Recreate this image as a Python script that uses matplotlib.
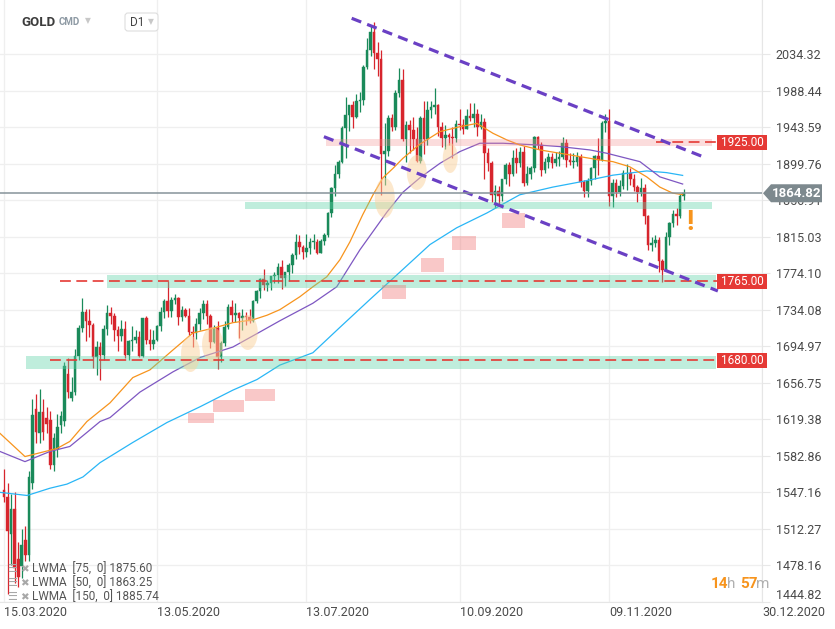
import numpy as np
import matplotlib
matplotlib.use('Agg')
import matplotlib.pyplot as plt
from matplotlib.patches import Rectangle, Ellipse, Polygon, FancyBboxPatch
from matplotlib.ticker import NullLocator
from matplotlib.transforms import IdentityTransform

plt.rcParams['font.family'] = ['Roboto', 'DejaVu Sans']

# ---------------- data (daily candles, index 0 = 15.03.2020) ----------------
opens = [1549, 1543, 1507, 1531, 1484, 1477, 1502, 1488, 1556, 1630,
         1605, 1627, 1621, 1619, 1574, 1589, 1613, 1618, 1666, 1641,
         1647, 1685, 1714, 1731, 1722, 1717, 1683, 1694, 1686, 1713,
         1730, 1727, 1712, 1706, 1713, 1686, 1700, 1702, 1705, 1685,
         1725, 1702, 1697, 1702, 1716, 1731, 1743, 1733, 1745, 1747,
         1726, 1734, 1727, 1710, 1709, 1719, 1730, 1740, 1727, 1699,
         1714, 1684, 1698, 1715, 1737, 1728, 1730, 1725, 1727, 1726,
         1722, 1743, 1754, 1768, 1761, 1763, 1771, 1772, 1781, 1769,
         1775, 1783, 1794, 1809, 1803, 1798, 1802, 1809, 1809, 1796,
         1810, 1817, 1842, 1871, 1887, 1902, 1942, 1958, 1970, 1956,
         1975, 1977, 2018, 2039, 2063, 2035, 2028, 1911, 1915, 1954,
         1944, 1985, 2002, 1929, 1946, 1940, 1929, 1903, 1954, 1929,
         1964, 1968, 1971, 1944, 1930, 1934, 1932, 1930, 1947, 1946,
         1941, 1957, 1955, 1960, 1944, 1950, 1912, 1900, 1863, 1868,
         1862, 1882, 1898, 1887, 1906, 1900, 1913, 1877, 1887, 1894,
         1931, 1922, 1892, 1901, 1908, 1900, 1905, 1907, 1924, 1904,
         1902, 1902, 1907, 1878, 1868, 1879, 1895, 1909, 1904, 1949,
         1951, 1862, 1877, 1866, 1873, 1888, 1888, 1882, 1872, 1866,
         1871, 1838, 1805, 1808, 1811, 1788, 1777, 1815, 1830, 1841,
         1839, 1862]
highs = [1570, 1556, 1545, 1547, 1500, 1512, 1515, 1568, 1640, 1645,
         1650, 1640, 1632, 1628, 1605, 1625, 1628, 1678, 1682, 1663,
         1692, 1718, 1747, 1735, 1735, 1720, 1700, 1699, 1718, 1739,
         1737, 1730, 1716, 1723, 1722, 1702, 1716, 1712, 1711, 1725,
         1727, 1713, 1712, 1718, 1737, 1746, 1765, 1748, 1751, 1748,
         1738, 1736, 1736, 1716, 1725, 1736, 1745, 1745, 1729, 1718,
         1722, 1700, 1722, 1740, 1745, 1741, 1732, 1735, 1731, 1735,
         1745, 1756, 1769, 1779, 1767, 1771, 1775, 1785, 1789, 1775,
         1785, 1797, 1818, 1817, 1806, 1818, 1813, 1818, 1812, 1812,
         1819, 1843, 1872, 1898, 1904, 1945, 1981, 1970, 1976, 1984,
         1986, 2021, 2055, 2070, 2075, 2050, 2039, 1949, 1958, 1960,
         1989, 2016, 2015, 1951, 1952, 1956, 1944, 1957, 1976, 1975,
         1975, 1992, 1972, 1950, 1946, 1936, 1944, 1952, 1966, 1953,
         1966, 1973, 1973, 1965, 1960, 1955, 1918, 1903, 1875, 1873,
         1882, 1900, 1901, 1916, 1918, 1919, 1921, 1897, 1897, 1933,
         1933, 1926, 1906, 1912, 1912, 1913, 1915, 1931, 1929, 1912,
         1912, 1914, 1911, 1880, 1883, 1896, 1910, 1930, 1951, 1960,
         1966, 1882, 1882, 1880, 1892, 1899, 1894, 1887, 1874, 1883,
         1876, 1840, 1815, 1817, 1815, 1790, 1820, 1832, 1845, 1848,
         1864, 1870]
lows = [1538, 1452, 1478, 1462, 1458, 1466, 1482, 1482, 1550, 1595,
        1595, 1598, 1605, 1570, 1568, 1582, 1605, 1612, 1641, 1638,
        1644, 1680, 1710, 1700, 1705, 1672, 1665, 1660, 1680, 1707,
        1719, 1700, 1690, 1700, 1682, 1680, 1690, 1698, 1683, 1684,
        1697, 1691, 1692, 1700, 1711, 1725, 1726, 1726, 1740, 1718,
        1722, 1726, 1707, 1694, 1703, 1712, 1724, 1719, 1693, 1698,
        1671, 1678, 1695, 1713, 1721, 1721, 1704, 1712, 1717, 1720,
        1721, 1741, 1747, 1756, 1754, 1755, 1763, 1763, 1757, 1760,
        1765, 1774, 1790, 1795, 1790, 1792, 1795, 1801, 1795, 1796,
        1806, 1815, 1837, 1862, 1883, 1900, 1906, 1939, 1943, 1955,
        1962, 1971, 2015, 2032, 2015, 2007, 1863, 1874, 1909, 1939,
        1940, 1980, 1927, 1902, 1912, 1916, 1902, 1900, 1911, 1922,
        1955, 1959, 1933, 1920, 1917, 1922, 1906, 1926, 1940, 1935,
        1941, 1951, 1944, 1933, 1941, 1882, 1891, 1855, 1848, 1851,
        1856, 1876, 1873, 1885, 1889, 1896, 1873, 1874, 1882, 1890,
        1917, 1885, 1889, 1894, 1894, 1897, 1897, 1905, 1896, 1898,
        1894, 1897, 1872, 1860, 1860, 1875, 1881, 1886, 1903, 1937,
        1850, 1849, 1861, 1862, 1870, 1869, 1875, 1867, 1855, 1862,
        1829, 1800, 1799, 1803, 1775, 1764, 1776, 1806, 1826, 1828,
        1836, 1857]
closes = [1543, 1510, 1531, 1476, 1467, 1497, 1488, 1562, 1624, 1606,
          1627, 1606, 1615, 1574, 1600, 1611, 1623, 1674, 1647, 1647,
          1685, 1714, 1731, 1722, 1717, 1683, 1694, 1686, 1713, 1730,
          1727, 1712, 1706, 1713, 1686, 1700, 1702, 1705, 1685, 1725,
          1702, 1697, 1702, 1716, 1731, 1743, 1733, 1745, 1747, 1726,
          1734, 1727, 1710, 1709, 1719, 1730, 1740, 1727, 1699, 1714,
          1684, 1698, 1715, 1737, 1728, 1730, 1725, 1727, 1726, 1722,
          1743, 1754, 1768, 1761, 1763, 1771, 1772, 1781, 1769, 1775,
          1783, 1794, 1809, 1803, 1798, 1802, 1809, 1809, 1796, 1810,
          1817, 1842, 1871, 1887, 1902, 1942, 1958, 1970, 1956, 1975,
          1977, 2018, 2039, 2063, 2035, 2028, 1911, 1915, 1954, 1944,
          1985, 2002, 1929, 1946, 1940, 1929, 1903, 1954, 1929, 1964,
          1968, 1971, 1944, 1930, 1934, 1932, 1930, 1947, 1946, 1941,
          1957, 1955, 1960, 1944, 1950, 1912, 1900, 1863, 1868, 1862,
          1882, 1898, 1887, 1906, 1900, 1913, 1877, 1887, 1894, 1931,
          1922, 1892, 1901, 1908, 1900, 1905, 1907, 1924, 1904, 1902,
          1902, 1907, 1878, 1868, 1879, 1895, 1909, 1904, 1949, 1951,
          1862, 1877, 1866, 1873, 1888, 1888, 1882, 1872, 1866, 1871,
          1838, 1805, 1808, 1811, 1788, 1777, 1815, 1830, 1841, 1839,
          1862, 1864.82]

# moving averages (candle index, value)
lwma50_x = [-1.1, 5.9, 14.9, 18.5, 23.3, 29.8, 36.2, 41.0, 47.5, 53.1, 58.7, 64.3,
            69.9, 73.9, 77.5, 83.1, 86.8, 90.7, 94.4, 97.2, 100.8, 103.7, 106.5,
            109.3, 112.1, 116.9, 122.5, 128.1, 132.9, 137.4, 141.3, 144.9, 150.6,
            156.2, 161.8, 167.4, 171.1, 175.8, 180.6, 184.3, 187.9, 190.7]
lwma50_y = [1605, 1582, 1590, 1597, 1617, 1636, 1662, 1670, 1691, 1709, 1714, 1720,
            1723, 1728, 1734, 1748, 1759, 1770, 1789, 1809, 1840, 1863, 1883,
            1894, 1906, 1923, 1938, 1944, 1948, 1936, 1928, 1922, 1916,
            1912, 1908, 1904, 1902, 1896, 1884, 1872, 1865, 1863.25]
lwma75_x = [-1.1, 5.9, 12.9, 18.5, 23.3, 27.0, 29.8, 38.2, 47.5, 55.1, 64.3, 71.9,
            77.5, 86.8, 93.5, 100.0, 107.6, 112.1, 116.9, 122.5, 128.1, 133.7,
            140.2, 149.7, 156.2, 164.6, 169.4, 178.7, 184.3, 190.7]
lwma75_y = [1587, 1577, 1587, 1592, 1606, 1617, 1621, 1647, 1668, 1683, 1694, 1710,
            1722, 1741, 1759, 1800, 1843, 1866, 1883, 1900, 1914, 1924,
            1924, 1922, 1920, 1916, 1912, 1902, 1884, 1875.60]
lwma150_x = [-1.1, 6.5, 12.9, 17.7, 22.2, 27.0, 36.2, 45.8, 55.1, 64.3, 71.1, 77.5,
             86.8, 94.4, 102.8, 111.2, 119.7, 127.2, 135.7, 144.9, 154.2, 161.8,
             171.1, 180.6, 186.2, 190.7]
lwma150_y = [1547, 1544, 1551, 1555, 1562, 1576, 1596, 1616, 1632, 1649, 1660, 1675,
             1688, 1715, 1745, 1775, 1806, 1825, 1842, 1863, 1872, 1878,
             1886, 1891, 1889, 1885.74]

price_now = 1864.82
levels = [1925.0, 1765.0, 1680.0]
level_start = [183.1, 15.7, 12.9]

ytick_vals = [2034.32, 1988.44, 1943.59, 1899.76, 1856.91, 1815.03, 1774.10, 1734.08,
              1694.97, 1656.75, 1619.38, 1582.86, 1547.16, 1512.27, 1478.16, 1444.82]
xtick_pos = [0, 43, 85, 128, 170, 213]
xtick_labels = ['15.03.2020', '13.05.2020', '13.07.2020', '10.09.2020', '09.11.2020', '30.12.2020']

# zones (x0, x1, y0, y1)
mint_zones = [(67.7, 198.9, 1846.6, 1854.7), (28.9, 200.0, 1757.7, 1772.0), (6.2, 200.0, 1671.0, 1684.6)]
pink_band = (90.4, 198.9, 1920.7, 1929.2)
pink_boxes = [(51.7, 59.0, 1615.6, 1625.7), (58.7, 67.4, 1626.7, 1638.9), (67.7, 76.1, 1637.9, 1650.2),
              (106.2, 112.9, 1745.7, 1761.0), (117.1, 123.6, 1775.3, 1791.0), (125.8, 132.6, 1799.9, 1815.7),
              (139.9, 146.3, 1824.8, 1842.0)]
ellipses = [(52.4, 5.3, 1667.8, 1705.8), (58.6, 5.9, 1678.3, 1715.4), (68.5, 5.6, 1690.9, 1728.3),
            (107.0, 5.6, 1836.3, 1882.7), (116.0, 5.6, 1868.7, 1909.9), (125.4, 4.2, 1888.6, 1924.3)]
trend_upper = ([97.7, 196.4], [2080.2, 1907.9])
trend_lower = ([89.9, 200.6], [1931.9, 1754.4])

# ---------------- figure ----------------
W, H = 835, 629
fig = plt.figure(figsize=(W / 100, H / 100), dpi=100)
ax = fig.add_axes([0, (H - 602) / H, 762 / W, 602 / H])
ax.set_yscale('log')
ax.set_ylim(1444.6, 2104.1)
ax.set_xlim(-1.12, 213)

idx = np.arange(len(opens))
o = np.array(opens, float); c = np.array(closes, float)
hi = np.array(highs, float); lo = np.array(lows, float)
up = c >= o
cols = np.where(up, '#1a8a5a', '#d7252d')
bottoms = np.minimum(o, c)
heights = np.maximum(np.abs(c - o), 0.9)
ax.vlines(idx, lo, hi, colors=cols, lw=0.9, zorder=3)
ax.bar(idx, heights, bottom=bottoms, width=0.72, color=cols, edgecolor=cols, linewidth=0.3, zorder=3.1)

ax.plot(lwma150_x, lwma150_y, color='#29b6f6', lw=0.9, zorder=4)
ax.plot(lwma75_x, lwma75_y, color='#7e57c2', lw=0.9, zorder=4)
ax.plot(lwma50_x, lwma50_y, color='#f7941d', lw=0.9, zorder=4)

for x0, x1, y0, y1 in mint_zones:
    ax.add_patch(Rectangle((x0, y0), x1 - x0, y1 - y0, facecolor='#5fd3a8', alpha=0.4, lw=0, zorder=5))
x0, x1, y0, y1 = pink_band
ax.add_patch(Rectangle((x0, y0), x1 - x0, y1 - y0, facecolor='#f28b8b', alpha=0.3, lw=0, zorder=5))
for x0, x1, y0, y1 in pink_boxes:
    ax.add_patch(Rectangle((x0, y0), x1 - x0, y1 - y0, facecolor='#f07070', alpha=0.38, lw=0, zorder=5))
for cx, w, y0, y1 in ellipses:
    ax.add_patch(Ellipse((cx, (y0 + y1) / 2), w, y1 - y0, facecolor='#fbd29c', alpha=0.5, lw=0, zorder=5))

for lv, xs in zip(levels, level_start):
    ax.plot([xs, 213], [lv, lv], color='#e53935', lw=1.2, dashes=(6.5, 3.3), zorder=6)

ax.plot(*trend_upper, color='#6a40c4', lw=2.3, dashes=(3.2, 2.0), zorder=6, solid_capstyle='butt')
ax.plot(*trend_lower, color='#6a40c4', lw=2.3, dashes=(3.2, 2.0), zorder=6, solid_capstyle='butt')

ax.axhline(price_now, color='#86939a', lw=1.1, zorder=6)

# axes styling
ax.set_yticks(ytick_vals)
ax.set_yticklabels(['%.2f' % v for v in ytick_vals])
ax.yaxis.set_minor_locator(NullLocator())
ax.yaxis.tick_right()
ax.tick_params(axis='y', length=6, color='#e8e8e8', pad=4, labelsize=9, labelcolor='#4a4a4a')
ax.set_xticks(xtick_pos)
ax.set_xticklabels(xtick_labels)
for lab in ax.get_xticklabels():
    lab.set_ha('left')
ax.tick_params(axis='x', length=0, pad=3, labelsize=9, labelcolor='#4a4a4a')
ax.yaxis.get_ticklabels()[-1].set_va('bottom')
ax.grid(True, color='#efefef', lw=0.9)
ax.set_axisbelow(True)
for s in ['top', 'left']:
    ax.spines[s].set_visible(False)
ax.spines['right'].set_color('#e6e6e6')
ax.spines['bottom'].set_color('#e6e6e6')

fig.canvas.draw()
idt = IdentityTransform()

def ypix(p):
    return ax.transData.transform((0, p))[1]

# current price tag
yp = ypix(price_now)
fig.add_artist(Polygon([(763, yp), (771, yp + 9), (822, yp + 9), (822, yp - 9), (771, yp - 9)],
                       closed=True, facecolor='#7d898e', edgecolor='none', transform=idt, zorder=20))
fig.text(797 / W, yp / H, '%.2f' % price_now, color='white', fontsize=9.5, fontweight='bold',
         ha='center', va='center', zorder=21)

# level tags
for lv in levels:
    yl = ypix(lv)
    fig.add_artist(Rectangle((717, yl - 7.5), 50, 15, facecolor='#e53935', edgecolor='none',
                             transform=idt, zorder=20))
    fig.text(742 / W, yl / H, '%.2f' % lv, color='white', fontsize=8.5, ha='center', va='center', zorder=21)

# header
fig.text(21 / W, 1 - 22 / H, 'GOLD', fontsize=9.5, fontweight='bold', color='#3c3c3c', va='center')
fig.text(59 / W, 1 - 22 / H, 'CMD', fontsize=7, fontweight='bold', color='#8e9aa4', va='center')
fig.text(85 / W, 1 - 21 / H, '▼', fontsize=5.5, color='#c8c8c8', va='center', family='DejaVu Sans')
fig.add_artist(FancyBboxPatch((125, H - 31), 33, 18, boxstyle='round,pad=0,rounding_size=3',
                              facecolor='white', edgecolor='#dedede', lw=0.8, transform=idt, zorder=10))
fig.text(130 / W, 1 - 22 / H, 'D1', fontsize=8.5, color='#444444', va='center', zorder=11)
fig.text(148 / W, 1 - 22 / H, '▼', fontsize=5.5, color='#c8c8c8', va='center', zorder=11, family='DejaVu Sans')

# indicator legend
legend_rows = ['LWMA  [75,  0] 1875.60', 'LWMA  [50,  0] 1863.25', 'LWMA  [150,  0] 1885.74']
for k, t in enumerate(legend_rows):
    yy = 1 - (569 + 14 * k) / H
    fig.text(7 / W, yy, '☰', fontsize=8, color='#a8a8a8', va='center', family='DejaVu Sans', zorder=12)
    fig.text(20 / W, yy, '✖', fontsize=7.5, color='#a8a8a8', va='center', family='DejaVu Sans', zorder=12)
    fig.text(32 / W, yy, t, fontsize=8.5, color='#555555', va='center', zorder=12)

# countdown
fig.text(711 / W, 1 - 584 / H, '14', fontsize=11, color='#f7941d', fontweight='bold', va='center')
fig.text(727 / W, 1 - 584 / H, 'h', fontsize=11, color='#b0b0b0', va='center')
fig.text(740 / W, 1 - 584 / H, '57', fontsize=11, color='#f7941d', fontweight='bold', va='center')
fig.text(756 / W, 1 - 584 / H, 'm', fontsize=11, color='#b0b0b0', va='center')

# warning sign
fig.text(690 / W, 1 - 222 / H, '!', fontsize=20, color='#f7941d', fontweight='bold', ha='center', va='center')

fig.savefig('out.png', dpi=100)
